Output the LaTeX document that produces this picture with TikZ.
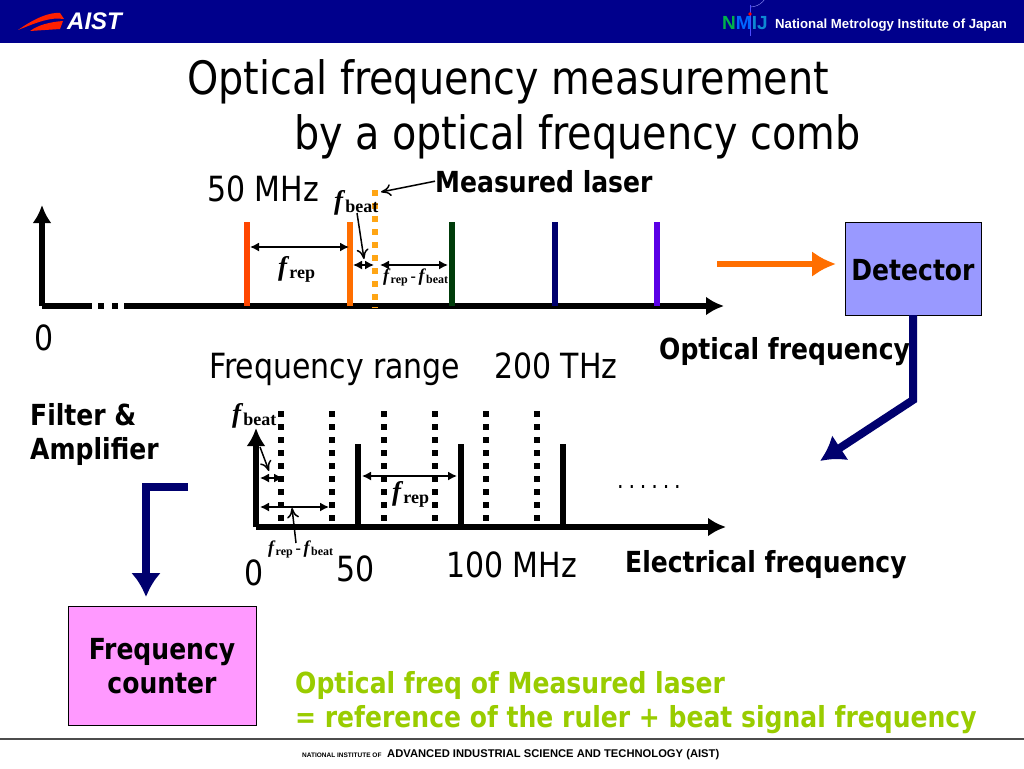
\documentclass[tikz,border=0pt]{standalone}
\usepackage{fontspec}
\setmainfont[FakeStretch=0.96]{DejaVu Sans Condensed}
\newfontfamily\arialfont{Liberation Sans}
\newfontfamily\timesfont{Liberation Serif}
\usetikzlibrary{arrows.meta}
\definecolor{headnavy}{RGB}{0,0,140}
\definecolor{arrownavy}{RGB}{0,0,110}
\definecolor{combred}{RGB}{255,70,0}
\definecolor{comborange}{RGB}{255,110,0}
\definecolor{combgreen}{RGB}{0,60,10}
\definecolor{combviolet}{RGB}{90,0,230}
\definecolor{laserorange}{RGB}{255,165,20}
\definecolor{detectorblue}{RGB}{153,153,255}
\definecolor{counterpink}{RGB}{255,153,255}
\definecolor{notegreen}{RGB}{153,204,0}
\newcommand{\sz}[1]{\fontsize{#1}{#1}\selectfont}
\newcommand{\fsub}[3]{{\timesfont\bfseries\sz{#1}\textit{f}\sz{#2}\raisebox{-0.18em}{#3}}}
\tikzset{
  txt/.style={inner sep=0pt,anchor=base west},
  bold/.style={txt,font=\bfseries\sz{29}},
  plain/.style={txt,font=\sz{34.7}},
  axis/.style={line width=6pt,-{Latex[length=18pt,width=19pt]}},
  comb/.style={line width=6pt},
  dots/.style={line width=6pt,dash pattern=on 6pt off 7pt},
  span/.style={line width=1.5pt,{Latex[length=9pt,width=9pt]}-{Latex[length=9pt,width=9pt]}},
  pointer/.style={line width=1.5pt,-{To[length=10pt,width=12pt]}},
  bigarrow/.style={line width=8pt,arrownavy,-{Latex[length=24pt,width=30pt]}}
}
\begin{document}
\begin{tikzpicture}[x=1pt,y=-1pt]
\useasboundingbox (0,0) rectangle (1024,768);
% header and footer
\fill[headnavy] (0,0) rectangle (1024,43);
\draw[line width=1.2pt,black!70] (0,739) -- (1024,739);
\fill[red!75!orange] (18,30) .. controls (35,18) and (50,12) .. (60,13) -- (64,19) .. controls (50,17) and (38,22) .. (18,30);
\fill[red!75!orange] (30,31) .. controls (38,25) and (50,22) .. (63,21) -- (60,29) -- cycle;
\node[txt,white,font=\arialfont\bfseries\itshape\sz{24}] (aistlogo) at (67,30) {AIST};
\draw[blue!40!white,thin] (750,7) arc (90:0:18);
\draw[blue!70!white,thin] (750,5) -- (750,36);
\fill[red] (750,14) circle (1.8pt);
\node[txt,font=\arialfont\bfseries\sz{19}] (nmijlogo) at (722,30) {\textcolor{green!70!blue}{N}\textcolor{blue!60!cyan}{M}\textcolor{cyan!70!blue}{IJ}};
\node[txt,white,font=\arialfont\bfseries\sz{13.2}] (nmijname) at (775,29) {National Metrology Institute of Japan};
\node[txt,font=\arialfont\bfseries\sz{6.5}] (footsmall) at (302,757) {NATIONAL INSTITUTE OF};
\node[txt,font=\arialfont\bfseries\sz{11.2}] (footbig) at (387,757) {ADVANCED INDUSTRIAL SCIENCE AND TECHNOLOGY (AIST)};
% title
\node[txt,font=\sz{46}] (title1) at (187,94) {Optical frequency measurement};
\node[txt,font=\sz{46}] (title2) at (294,149) {by a optical frequency comb};
% optical comb
\coordinate (oo) at (42,306);
\coordinate (oy) at (42,205);
\coordinate (ob) at (92,306);
\coordinate (od) at (98,306);
\coordinate (oe) at (118,306);
\coordinate (oc) at (124,306);
\coordinate (ox) at (724,306);
\draw[axis] (oo) -- (oy);
\draw[line width=6pt] (oo) -- (ob);
\draw[line width=6pt,dash pattern=on 6pt off 8pt] (od) -- (oe);
\draw[axis] (oc) -- (ox);
\foreach \x/\c in {247/combred,350/comborange,452/combgreen,555/arrownavy,657/combviolet}
  \draw[comb,\c] (\x,222) -- (\x,306);
\draw[dots,laserorange] (375,190) -- (375,308);
\coordinate (a1) at (250,247);
\coordinate (a2) at (349,247);
\draw[span] (a1) -- (a2);
\coordinate (b1) at (353,265);
\coordinate (b2) at (374,265);
\draw[span] (b1) -- (b2);
\coordinate (c1) at (380,265);
\coordinate (c2) at (448,265);
\draw[span] (c1) -- (c2);
\node[txt] (frep1) at (278,275) {\fsub{27}{18}{rep}};
\node[txt] (fbeat1) at (334,209) {\fsub{27}{18}{beat}};
\node[txt] (fdiff1) at (383,281) {\fsub{18}{12}{rep} {\timesfont\bfseries\sz{16}-} \fsub{18}{12}{beat}};
\coordinate (p1) at (357,213);
\coordinate (p2) at (364,259);
\draw[pointer] (p1) -- (p2);
\node[bold] (laser) at (435,192) {Measured laser};
\coordinate (laserdot) at (381,192);
\draw[pointer] (laser.west) -- (laserdot);
\node[plain] (mhz50) at (207,201) {50 MHz};
\node[plain] (zero1) at (34,350) {0};
\node[plain] (range) at (209,378) {Frequency range};
\node[plain] (thz) at (494,378) {200 THz};
\node[bold] (optfreq) at (659,359) {Optical frequency};
% detector and counter
\node[draw,fill=detectorblue,minimum width=136pt,minimum height=93pt,inner sep=0pt,text height=24pt,font=\bfseries\sz{29}] (detector) at (913,268.5) {Detector};
\node[draw,fill=counterpink,minimum width=188pt,minimum height=119pt,inner sep=0pt,align=center,font=\bfseries\sz{29}] (counter) at (162,666) {Frequency\\[5pt]counter};
\coordinate (in1) at (717,264);
\coordinate (in2) at (836,264);
\draw[line width=6pt,comborange,-{Latex[length=24pt,width=26pt]}] (in1) -- (in2);
\coordinate (bend1) at (913,400);
\coordinate (end1) at (820,461);
\draw[bigarrow] (detector.south) -- (bend1) -- (end1);
\coordinate (start2) at (188,487);
\coordinate (bend2) at (146,487);
\coordinate (end2) at (146,597);
\draw[bigarrow] (start2) -- (bend2) -- (end2);
\node[bold] (filter) at (30,425) {Filter \&};
\node[bold] (amp) at (30,459) {Amplifier};
% electrical comb
\coordinate (eo) at (256,527);
\coordinate (ey) at (256,428);
\coordinate (ex) at (726,527);
\draw[axis] (eo) -- (ey);
\draw[axis] (eo) -- (ex);
\foreach \x in {358,461,563}
  \draw[comb] (\x,444) -- (\x,527);
\foreach \x in {281,332,384,435,486,537}
  \draw[dots] (\x,411) -- (\x,522);
\coordinate (d1) at (362,476);
\coordinate (d2) at (457,476);
\draw[span] (d1) -- (d2);
\coordinate (e1) at (260,478);
\coordinate (e2) at (283,478);
\draw[span] (e1) -- (e2);
\coordinate (f1) at (260,507);
\coordinate (f2) at (329,507);
\draw[span] (f1) -- (f2);
\node[txt] (frep2) at (392,500) {\fsub{27}{18}{rep}};
\node[txt] (fbeat2) at (232,422) {\fsub{27}{18}{beat}};
\node[txt] (fdiff2) at (268,553) {\fsub{18}{12}{rep} {\timesfont\bfseries\sz{16}-} \fsub{18}{12}{beat}};
\coordinate (q1) at (260,447);
\coordinate (q2) at (269,471);
\draw[pointer] (q1) -- (q2);
\coordinate (r1) at (296,543);
\coordinate (r2) at (292,508);
\draw[pointer] (r1) -- (r2);
\node[txt,font=\sz{24}\addfontfeature{LetterSpace=20}] (dots) at (617,488) {......};
\node[plain] (zero2) at (244,585) {0};
\node[plain] (mhz0) at (336,581) {50};
\node[plain] (mhz100) at (446,577) {100 MHz};
\node[bold] (elecfreq) at (625,572) {Electrical frequency};
% note
\node[bold,notegreen] (note1) at (295,693) {Optical freq of Measured laser};
\node[bold,notegreen] (note2) at (295,727) {= reference of the ruler + beat signal frequency};
\end{tikzpicture}
\end{document}
